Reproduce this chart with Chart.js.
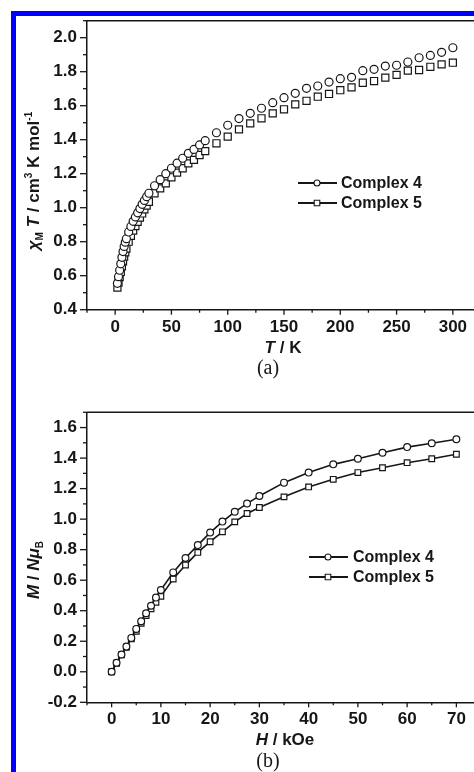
<!DOCTYPE html>
<html>
<head>
<meta charset="utf-8">
<script src="https://cdn.jsdelivr.net/npm/chart.js@4.4.1/dist/chart.umd.min.js"></script>
<style>
  html, body { margin: 0; padding: 0; background: #fff; overflow: hidden; width: 474px; height: 772px; }
  .box { position: absolute; left: 0; width: 490px; }
  .box canvas { display: block; }
  #wrapA { top: 0; height: 380px; }
  #wrapB { top: 380px; height: 392px; }
  .blue { position: absolute; background: #0000ff; }
</style>
</head>
<body>
<div class="box" id="wrapA"><canvas id="chartA" width="490" height="380"></canvas></div>
<div class="box" id="wrapB"><canvas id="chartB" width="490" height="392"></canvas></div>
<div class="blue" style="left:11px;top:11px;width:5px;height:761px"></div>
<div class="blue" style="left:11px;top:11px;width:463px;height:5px"></div>
<script>
// (a) chi_M T vs T
const tempK = [2, 3, 4, 5, 6, 7, 8, 9, 10, 12, 14, 16, 18, 20, 22, 24, 26, 28, 30,
  35, 40, 45, 50, 55, 60, 65, 70, 75, 80,
  90, 100, 110, 120, 130, 140, 150, 160, 170, 180, 190, 200, 210, 220, 230, 240, 250, 260, 270, 280, 290, 300];
const chiT4 = [0.555, 0.594, 0.632, 0.670, 0.708, 0.742, 0.772, 0.797, 0.818, 0.857, 0.890, 0.920, 0.946, 0.970, 0.995, 1.020, 1.043, 1.065, 1.085,
  1.129, 1.165, 1.200, 1.232, 1.262, 1.291, 1.320, 1.343, 1.369, 1.394,
  1.441, 1.485, 1.524, 1.555, 1.585, 1.618, 1.647, 1.673, 1.702, 1.716, 1.739, 1.759, 1.767, 1.806, 1.814, 1.833, 1.838, 1.857, 1.882, 1.896, 1.914, 1.941];
const chiT5 = [0.530, 0.560, 0.592, 0.622, 0.655, 0.685, 0.712, 0.738, 0.760, 0.800, 0.835, 0.865, 0.892, 0.917, 0.942, 0.966, 0.990, 1.012, 1.035,
  1.085, 1.114, 1.143, 1.179, 1.206, 1.232, 1.261, 1.281, 1.310, 1.333,
  1.379, 1.418, 1.461, 1.496, 1.526, 1.555, 1.579, 1.608, 1.629, 1.653, 1.669, 1.691, 1.708, 1.735, 1.745, 1.765, 1.781, 1.806, 1.810, 1.829, 1.843, 1.853];
const tTicks = [0, 50, 100, 150, 200, 250, 300];
const chiTicks = [0.4, 0.6, 0.8, 1.0, 1.2, 1.4, 1.6, 1.8, 2.0];

// (b) M vs H
const fieldKOe = [0, 1, 2, 3, 4, 5, 6, 7, 8, 9, 10, 12.5, 15, 17.5, 20, 22.5, 25, 27.5, 30, 35, 40, 45, 50, 55, 60, 65, 70];
const mag4 = [0, 0.059, 0.113, 0.165, 0.222, 0.281, 0.331, 0.383, 0.433, 0.486, 0.536, 0.651, 0.745, 0.830, 0.912, 0.984, 1.048, 1.102,
  1.152, 1.239, 1.305, 1.359, 1.396, 1.435, 1.472, 1.497, 1.523];
const mag5 = [0, 0.056, 0.111, 0.161, 0.216, 0.265, 0.318, 0.368, 0.412, 0.455, 0.494, 0.608, 0.699, 0.782, 0.852, 0.917, 0.982, 1.037,
  1.076, 1.146, 1.211, 1.261, 1.305, 1.337, 1.370, 1.396, 1.425];
const hTicks = [0, 10, 20, 30, 40, 50, 60, 70];
const mTicks = [-0.2, 0.0, 0.2, 0.4, 0.6, 0.8, 1.0, 1.2, 1.4, 1.6];

const seriesNames = ['Complex 4', 'Complex 5'];

const INK = '#161616';
const SANS = '"Liberation Sans", Arial, sans-serif';
const SERIF = '"Liberation Serif", "Times New Roman", serif';
const B17 = 'bold 17px ' + SANS;
const I17 = 'italic bold 17px ' + SANS;
const S10 = 'bold 10px ' + SANS;

function pts(xs, ys) { return xs.map((x, i) => ({ x: x, y: ys[i] })); }

function drawRuns(ctx, parts, x, y) {
  let w = 0;
  parts.forEach(p => { ctx.font = p.font; w += ctx.measureText(p.t).width; });
  let cx = x - w / 2;
  ctx.textAlign = 'left';
  ctx.textBaseline = 'alphabetic';
  parts.forEach(p => {
    ctx.font = p.font;
    ctx.fillText(p.t, cx, y + (p.dy || 0));
    cx += ctx.measureText(p.t).width;
  });
}

function marker(ctx, style, x, y, r) {
  ctx.beginPath();
  if (style === 'rect') ctx.rect(x - r, y - r, 2 * r, 2 * r);
  else ctx.arc(x, y, r, 0, Math.PI * 2);
  ctx.fillStyle = '#fff';
  ctx.fill();
  ctx.stroke();
}

const decor = {
  id: 'decor',
  afterDraw(chart, args, o) {
    const ctx = chart.ctx, a = chart.chartArea;
    const xs = chart.scales.x, ys = chart.scales.y;
    ctx.save();
    ctx.strokeStyle = INK;
    ctx.fillStyle = INK;
    ctx.lineWidth = 1.5;
    ctx.beginPath();
    ctx.moveTo(a.left, a.top); ctx.lineTo(a.right, a.top); ctx.lineTo(a.right, a.bottom);
    ctx.stroke();

    // major + minor tick marks
    const tickSet = (scale, horiz) => {
      const vals = scale.ticks.map(t => t.value);
      const step = vals[1] - vals[0];
      for (let v = scale.min; v <= scale.max + 1e-9; v += step / 2) {
        const k = (v - vals[0]) / step;
        const major = Math.abs(k - Math.round(k)) < 1e-6;
        const p = scale.getPixelForValue(v);
        ctx.beginPath();
        if (horiz) {
          const len = major ? 5 : 3;
          ctx.moveTo(p, a.bottom); ctx.lineTo(p, a.bottom + len);
        } else {
          const len = major ? 7 : 4;
          ctx.moveTo(a.left, p); ctx.lineTo(a.left - len, p);
        }
        ctx.stroke();
      }
    };
    ctx.lineWidth = 1.3;
    tickSet(xs, true);
    tickSet(ys, false);

    // axis titles
    ctx.fillStyle = INK;
    ctx.save();
    ctx.translate(o.yTitle.x, o.yTitle.y);
    ctx.rotate(-Math.PI / 2);
    drawRuns(ctx, o.yTitle.parts, 0, 6);
    ctx.restore();
    drawRuns(ctx, o.xTitle.parts, o.xTitle.x, o.xTitle.y);
    ctx.font = '20px ' + SERIF;
    ctx.textAlign = 'center';
    ctx.textBaseline = 'alphabetic';
    ctx.fillText(o.caption.t, o.caption.x, o.caption.y);

    // legend
    const L = o.legend;
    chart.data.datasets.forEach((ds, i) => {
      const y = L.rows[i];
      ctx.lineWidth = 2;
      ctx.strokeStyle = INK;
      ctx.beginPath(); ctx.moveTo(L.x0, y); ctx.lineTo(L.x1, y); ctx.stroke();
      ctx.lineWidth = 1.1;
      marker(ctx, ds.pointStyle, L.xm, y, ds.pointStyle === 'rect' ? 2.8 : 3);
      ctx.fillStyle = INK;
      ctx.font = 'bold 16px ' + SANS;
      ctx.textAlign = 'left';
      ctx.textBaseline = 'middle';
      ctx.fillText(ds.label, L.xt, y + 1);
    });
    ctx.restore();
  }
};

function scaleOpts(min, max, tickVals, fixed, horiz) {
  return {
    type: 'linear',
    min: min, max: max,
    grid: { display: false, drawTicks: false },
    border: { display: true, color: INK, width: 1.5 },
    afterBuildTicks: s => { s.ticks = tickVals.map(v => ({ value: v })); },
    afterFit: s => { if (horiz) s.height = 40; else s.width = 87; },
    ticks: {
      autoSkip: false, maxRotation: 0,
      padding: horiz ? 7 : 10,
      color: INK,
      font: { family: SANS, size: 17, weight: 'bold' },
      callback: v => fixed ? Number(v).toFixed(1) : String(v)
    }
  };
}

function makeChart(id, xsData, ys4, ys5, cfg) {
  const ds = (label, ys, style, r) => ({
    label: label,
    data: pts(xsData, ys),
    pointStyle: style,
    pointRadius: r,
    pointBackgroundColor: '#fff',
    pointBorderColor: INK,
    pointBorderWidth: 1.2,
    borderColor: INK,
    borderWidth: 1.6,
    showLine: cfg.line
  });
  return new Chart(document.getElementById(id), {
    type: 'scatter',
    data: {
      datasets: [
        ds(seriesNames[0], ys4, 'circle', cfg.rc),
        ds(seriesNames[1], ys5, 'rect', cfg.rs)
      ]
    },
    options: {
      responsive: false,
      animation: false,
      events: [],
      layout: { padding: cfg.pad },
      scales: {
        x: scaleOpts(cfg.xr[0], cfg.xr[1], cfg.xt, false, true),
        y: scaleOpts(cfg.yr[0], cfg.yr[1], cfg.yt, true, false)
      },
      plugins: {
        legend: { display: false },
        tooltip: { enabled: false },
        decor: cfg.decor
      }
    },
    plugins: [decor]
  });
}

makeChart('chartA', tempK, chiT4, chiT5, {
  line: false, rc: 4, rs: 5,
  pad: { top: 20.7, left: 0, right: 9, bottom: 30.3 },
  xr: [-25, 325], xt: tTicks,
  yr: [0.4, 2.1], yt: chiTicks,
  decor: {
    yTitle: { x: 33, y: 181, parts: [
      { t: 'χ', font: I17 }, { t: 'M', font: S10, dy: 4 }, { t: ' ', font: B17 },
      { t: 'T', font: I17 }, { t: ' / cm', font: B17 }, { t: '3', font: S10, dy: -7 },
      { t: ' K mol', font: B17 }, { t: '-1', font: S10, dy: -7 }
    ] },
    xTitle: { x: 283, y: 353, parts: [{ t: 'T', font: I17 }, { t: ' / K', font: B17 }] },
    caption: { t: '(a)', x: 268, y: 374 },
    legend: { x0: 298, x1: 337, xm: 317, xt: 341, rows: [183, 203] }
  }
});

makeChart('chartB', fieldKOe, mag4, mag5, {
  line: true, rc: 3.4, rs: 4,
  pad: { top: 32.3, left: 0, right: 9, bottom: 29.7 },
  xr: [-5, 75], xt: hTicks,
  yr: [-0.2, 1.7], yt: mTicks,
  decor: {
    yTitle: { x: 33, y: 190, parts: [
      { t: 'M', font: I17 }, { t: ' / ', font: B17 }, { t: 'N', font: I17 },
      { t: 'μ', font: I17 }, { t: 'B', font: S10, dy: 4 }
    ] },
    xTitle: { x: 285, y: 365, parts: [{ t: 'H', font: I17 }, { t: ' / kOe', font: B17 }] },
    caption: { t: '(b)', x: 268, y: 386.5 },
    legend: { x0: 309, x1: 348, xm: 328, xt: 353, rows: [177, 197] }
  }
});
</script>
</body>
</html>
